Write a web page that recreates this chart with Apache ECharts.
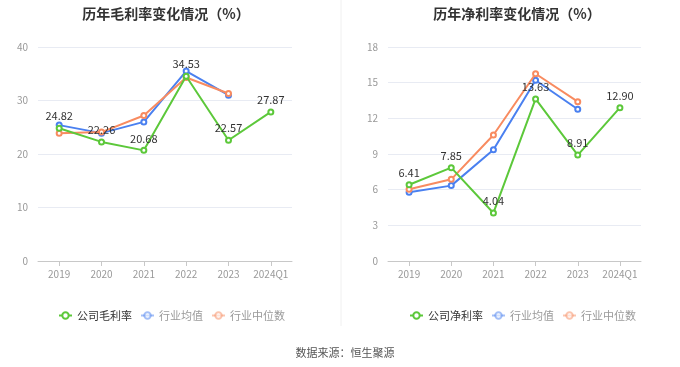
<!DOCTYPE html>
<html><head><meta charset="utf-8">
<script src="https://cdn.jsdelivr.net/npm/echarts@6/dist/echarts.min.js"></script>
<style>html,body{margin:0;padding:0;background:#fff}#c{width:680px;height:367px}</style>
</head><body><div id="c"></div>
<script>
const categories = ['2019','2020','2021','2022','2023','2024Q1'];
const grossCompany = [24.82, 22.26, 20.68, 34.53, 22.57, 27.87];
const grossIndustryAvg = [25.4, 23.9, 26.0, 35.5, 31.0, null];
const grossIndustryMedian = [23.9, 24.1, 27.2, 34.3, 31.3, null];
const netCompany = [6.41, 7.85, 4.04, 13.63, 8.91, 12.90];
const netIndustryAvg = [5.78, 6.34, 9.36, 15.2, 12.76, null];
const netIndustryMedian = [6.03, 6.87, 10.6, 15.75, 13.4, null];
const leftTicks = {min: 0, max: 40, interval: 10};
const rightTicks = {min: 0, max: 18, interval: 3};

const FONT = '"Noto Sans CJK SC", "Noto Sans", sans-serif';
const GREEN = '#5cc83a', BLUE = '#4a80f0', ORANGE = '#f88b60';

function xAxis(gi){
  return {type:'category', gridIndex:gi, data:categories, boundaryGap:true,
    axisLine:{lineStyle:{color:'#c8c8c8'}}, axisTick:{show:true, alignWithLabel:true, lineStyle:{color:'#c8c8c8'}},
    axisLabel:{color:'#999', fontSize:10, fontFamily:FONT, margin:8, interval:0}};
}
function yAxis(gi, t){
  return {type:'value', gridIndex:gi, min:t.min, max:t.max, interval:t.interval,
    axisLine:{show:false}, axisTick:{show:false},
    axisLabel:{color:'#999', fontSize:10, fontFamily:FONT, margin:10},
    splitLine:{lineStyle:{color:'#e8ebf3'}}};
}
function line(name, data, color, gi, labels, z){
  return {name, type:'line', xAxisIndex:gi, yAxisIndex:gi, data, z,
    symbol:'emptyCircle', symbolSize:5, lineStyle:{width:2, color}, itemStyle:{color, borderWidth:1.5},
    label:{show:labels, position:'top', color:'#333', fontSize:11, fontFamily:FONT, distance:3,
      formatter:p=>p.value.toFixed(2)}};
}
function legend(left, names){
  return {left, top:305, orient:'horizontal', itemWidth:13, itemHeight:8, itemGap:8,
    textStyle:{fontSize:11, fontFamily:FONT, color:'#999'},
    data:[
      {name:names[0], textStyle:{color:'#333'}},
      {name:names[1], itemStyle:{opacity:0.5}, lineStyle:{opacity:0.5}},
      {name:names[2], itemStyle:{opacity:0.5}, lineStyle:{opacity:0.5}}
    ]};
}
const chart = echarts.init(document.getElementById('c'), null, {renderer:'canvas'});
chart.setOption({
  animation:false,
  title:[
    {text:'历年毛利率变化情况（%）', left:161, top:2, textAlign:'center', textStyle:{fontSize:14, fontWeight:'bold', color:'#333', fontFamily:FONT}},
    {text:'历年净利率变化情况（%）', left:512, top:2, textAlign:'center', textStyle:{fontSize:14, fontWeight:'bold', color:'#333', fontFamily:FONT}},
    {text:'数据来源：恒生聚源', left:340, top:342, textAlign:'center', textStyle:{fontSize:11, fontWeight:'normal', color:'#555', fontFamily:FONT}}
  ],
  graphic:[{type:'line', shape:{x1:341, y1:0, x2:341, y2:326}, style:{stroke:'#f0f0f0', lineWidth:1}}],
  legend:[
    legend(53, ['公司毛利率','行业均值','行业中位数']),
    legend(404, ['公司净利率','行业均值','行业中位数'])
  ],
  grid:[
    {left:38, top:47, width:254, height:214},
    {left:388, top:47, width:253, height:214}
  ],
  xAxis:[xAxis(0), xAxis(1)],
  yAxis:[yAxis(0, leftTicks), yAxis(1, rightTicks)],
  series:[
    line('行业均值', grossIndustryAvg, BLUE, 0, false, 2),
    line('行业中位数', grossIndustryMedian, ORANGE, 0, false, 3),
    line('公司毛利率', grossCompany, GREEN, 0, true, 4),
    line('行业均值', netIndustryAvg, BLUE, 1, false, 2),
    line('行业中位数', netIndustryMedian, ORANGE, 1, false, 3),
    line('公司净利率', netCompany, GREEN, 1, true, 4)
  ]
});
</script></body></html>
